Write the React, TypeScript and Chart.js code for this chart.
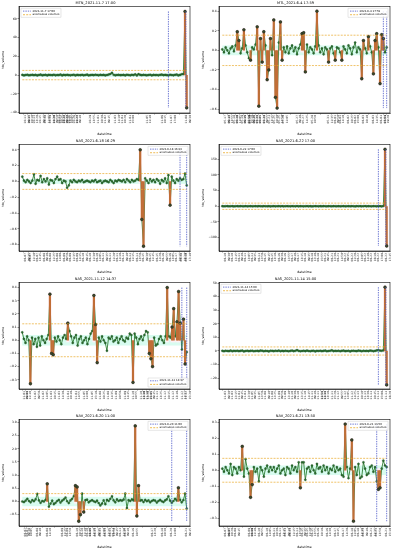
import React, { useEffect, useRef } from "react";
import { Chart, registerables } from "chart.js";
Chart.register(...registerables);

const FONT = '"DejaVu Sans", sans-serif';
Chart.defaults.font.family = FONT;

const yLabel = "ttv_volume";
const xLabel = "datetime";
const anomalyLabel = "anomalous volumes";

const titles = [
  "MTN_2021-11-7 17:00", "MTL_2021-6-4 17:59",
  "NAS_2021-6-18 16:29", "NAS_2021-6-22 17:00",
  "NAS_2021-11-12 14:37", "NAS_2021-11-14 15:00",
  "NAV_2021-6-20 11:00", "NAV_2021-6-21 13:50",
];
const eventLabels = [
  "2021-11-7 17:00", "2021-6-4 17:59", "2021-6-18 16:29", "2021-6-22 17:00",
  "2021-11-12 14:37", "2021-11-14 15:00", "2021-6-20 11:00", "2021-6-21 13:50",
];
const yMins = [-40.5, -0.64, -0.88, -143, -0.37, -28, -0.93, -0.35];
const yMaxs = [73.5, 0.45, 0.47, 198, 0.44, 50.6, 3.12, 0.32];
const ySteps = [20, 0.2, 0.2, 50, 0.1, 10, 0.5, 0.1];
const yDecimals = [0, 1, 1, 0, 1, 0, 1, 1];
const thresholds = [5, 0.155, 0.1, 10, 0.125, 3, 0.3, 0.075];
const normalBands = [2, 0.05, 0.03, 3, 0.04, 1, 0.18, 0.03];
const stemMins = [10, 0.09, 0.2, 20, 0.095, 10, 0.35, 0.085];
const eventPositions = [[88, 98.5], [97, 99], [95, 99], [94, 98.5], [98, 101], [94, 98.5], [90, 99], [93, 99]];

const p1Values = [0.2,-0.3,0.1,0.4,-0.2,0.0,0.3,-0.1,0.2,-0.4,
 0.1,0.5,-0.2,0.0,0.3,-0.3,0.2,0.1,-0.1,0.4,
 -0.2,0.1,0.0,0.6,-0.3,0.2,-0.1,0.3,0.0,-0.2,
 0.1,0.4,-0.4,0.2,0.0,-0.1,0.3,-0.2,0.1,0.5,
 -0.3,0.0,0.2,-0.1,0.4,0.1,-0.2,0.3,0.0,0.2,
 -0.3,0.1,0.6,1.2,2.5,0.4,-0.2,0.1,0.3,-0.1,
 0.0,0.2,-0.3,0.4,0.1,-0.2,0.3,0.0,0.8,-0.4,
 1.0,0.2,-0.1,0.3,0.0,-0.2,0.1,0.4,-0.3,0.2,
 0.0,0.1,-0.2,0.3,0.5,-0.1,0.2,0.0,-0.3,0.4,
 0.1,-0.2,0.3,0.6,-0.4,0.2,0.9,1.1,68,-35];
const p2Values = [0.01,-0.02,0.03,0.00,-0.03,0.02,0.04,-0.01,0.05,0.19,
 0.10,-0.03,0.02,0.21,0.05,-0.02,-0.08,-0.10,0.03,0.01,
 0.06,0.24,-0.57,0.12,-0.12,0.19,0.05,-0.30,-0.20,0.12,
 -0.05,0.31,-0.48,-0.59,0.08,0.29,-0.10,0.03,-0.02,0.04,
 -0.03,0.02,0.05,-0.01,0.03,-0.04,0.02,0.06,0.17,0.18,
 -0.22,0.06,-0.02,0.03,0.01,-0.03,0.04,0.40,0.05,-0.02,
 0.02,-0.04,0.03,0.01,-0.12,0.02,0.04,-0.03,-0.10,0.03,
 0.02,-0.02,-0.10,0.04,0.01,-0.03,0.05,0.02,-0.04,0.03,
 0.08,-0.02,0.03,0.01,-0.29,0.10,0.02,-0.03,0.14,0.04,
 -0.02,-0.24,0.10,0.17,0.03,-0.34,0.16,0.12,-0.02,0.03];
const p3Values = [0.06,0.01,-0.01,0.02,0.00,-0.02,0.01,0.09,-0.03,0.02,
 0.01,0.07,-0.01,0.03,0.00,0.04,-0.04,0.02,0.01,-0.02,
 0.03,0.06,0.02,0.03,-0.02,0.01,0.00,-0.08,-0.05,0.01,
 -0.01,0.02,0.00,-0.01,0.01,0.00,0.02,-0.01,0.00,0.01,
 0.00,-0.01,0.01,0.00,0.02,-0.01,0.00,0.01,-0.02,0.00,
 0.01,0.00,-0.01,0.02,0.00,-0.02,0.01,0.00,0.02,0.01,
 0.00,0.02,-0.01,0.03,0.01,-0.01,0.02,0.00,0.01,0.03,
 0.02,0.40,-0.48,-0.82,0.04,0.01,-0.02,0.03,0.00,0.02,
 -0.01,0.03,0.01,-0.03,0.02,0.00,0.04,-0.02,0.08,-0.30,
 0.06,0.01,-0.02,0.03,0.01,0.04,0.02,0.03,0.10,-0.05];
const p4Values = [0.2,-0.3,0.1,0.4,-0.2,0.0,0.3,-0.4,0.1,0.2,
 -0.1,0.3,0.0,-0.2,0.5,-0.3,0.1,0.2,-0.1,0.0,
 0.3,-0.2,0.4,0.1,-0.3,0.2,0.0,-0.1,0.3,-0.4,
 0.1,0.2,-0.2,0.0,0.4,-0.1,0.3,-0.3,0.1,0.2,
 0.0,-0.2,0.3,0.1,-0.1,0.5,-0.3,0.2,0.0,-0.2,
 0.1,0.3,-0.1,0.2,-0.4,0.0,0.3,0.1,-0.2,0.2,
 -0.1,0.4,0.0,-0.3,0.2,0.1,-0.2,0.3,0.0,-0.1,
 0.2,-0.3,0.1,0.4,-0.2,0.0,0.3,-0.1,0.2,0.1,
 -0.4,0.2,0.0,0.3,-0.2,0.1,0.5,-0.1,0.2,0.0,
 -0.3,0.4,0.1,-0.2,0.6,0.3,-0.5,0.8,182,-127];
const p5Values = [0.06,0.01,-0.02,0.03,0.00,-0.33,0.02,-0.03,0.01,-0.05,
 0.02,-0.04,0.03,0.00,-0.02,0.01,0.04,0.35,-0.10,-0.11,
 0.02,-0.01,0.03,0.00,-0.03,0.02,0.04,0.01,0.13,0.07,
 0.03,-0.02,0.02,0.04,-0.04,0.01,0.03,-0.02,0.00,0.02,
 -0.03,0.01,0.05,0.07,0.34,0.12,-0.17,0.02,-0.01,0.03,
 0.00,-0.02,-0.08,0.02,0.01,0.03,-0.01,0.00,0.02,-0.02,
 0.01,0.03,0.00,-0.01,0.02,0.01,0.05,0.04,-0.32,0.05,
 0.02,-0.03,0.01,0.03,0.00,0.04,0.07,0.06,-0.10,-0.14,
 -0.20,0.02,-0.04,-0.03,0.01,0.03,0.00,-0.02,0.03,0.40,
 0.03,0.02,0.10,0.24,0.03,0.14,0.37,0.13,-0.07,0.16,-0.18,-0.09];
const p6Values = [0.1,-0.2,0.2,0.0,-0.1,0.3,-0.2,0.1,0.0,0.2,
 -0.1,0.1,0.3,-0.3,0.0,0.2,-0.1,0.1,0.2,-0.2,
 0.0,0.1,-0.1,0.3,0.2,-0.2,0.1,0.0,-0.3,0.2,
 0.1,-0.1,0.2,0.0,0.3,-0.2,0.1,-0.1,0.2,0.0,
 -0.2,0.1,0.3,-0.1,0.2,0.6,0.1,-0.2,0.0,0.2,
 -0.1,0.3,0.0,-0.2,0.1,0.2,-0.3,0.1,0.0,0.2,
 -0.1,0.1,0.3,-0.2,0.0,0.2,0.5,-0.1,0.1,0.0,
 0.2,-0.2,0.1,0.3,-0.1,0.0,0.2,-0.3,0.1,0.2,
 0.0,-0.1,0.3,0.1,-0.2,0.2,0.0,0.1,-0.1,0.3,
 0.2,-0.2,0.1,0.4,0.6,0.3,0.2,0.5,47,-25];
const p7Values = [0.00,-0.02,0.03,0.10,0.02,-0.03,0.05,0.01,0.08,0.29,
 0.04,-0.05,0.02,0.00,0.06,0.67,-0.20,-0.08,0.03,-0.10,
 -0.05,0.02,0.06,-0.04,0.03,0.08,0.15,0.01,-0.06,0.04,
 0.10,0.20,0.60,0.55,-0.75,-0.50,0.30,-0.40,0.05,0.07,
 -0.03,0.02,0.05,0.01,-0.02,0.03,-0.06,-0.15,-0.08,0.04,
 -0.10,0.06,0.02,0.10,0.20,0.04,-0.03,0.08,0.02,0.05,
 0.03,0.07,0.30,-0.25,0.05,0.02,0.08,0.04,2.87,-0.55,
 0.60,0.03,0.05,-0.02,0.06,0.01,0.04,-0.03,0.02,0.05,
 0.03,-0.04,0.02,0.06,0.01,-0.02,0.04,0.08,0.20,0.03,
 -0.05,0.02,0.10,0.04,0.52,0.06,-0.03,0.05,0.30,-0.27];
const p8Values = [0.01,-0.01,0.02,0.00,-0.02,0.04,-0.03,0.02,0.01,-0.02,
 0.02,0.00,0.15,-0.04,0.07,0.01,-0.02,-0.17,-0.09,0.02,
 -0.01,0.01,-0.07,0.02,0.00,-0.04,0.01,0.03,-0.01,0.02,
 0.00,0.02,-0.01,0.01,0.03,-0.02,0.00,0.01,-0.03,0.02,
 0.01,-0.02,0.03,0.00,0.02,-0.01,0.05,-0.11,0.05,0.05,
 -0.06,0.01,0.02,-0.01,0.03,0.00,-0.02,0.04,0.01,0.02,
 -0.01,0.03,0.00,0.02,-0.02,0.01,0.00,0.03,-0.01,0.02,
 0.00,0.01,-0.03,-0.04,0.29,0.02,-0.05,0.01,0.19,-0.32,
 0.02,-0.03,0.04,-0.05,-0.04,0.05,0.01,-0.03,-0.02,0.02,
 0.03,-0.01,0.02,-0.07,-0.12,-0.11,0.01,0.06,0.03,0.02];

const p1TickPos = [2,4,7,11,14,17,19,22,23,25,27,28,31,33,41,46,50,56,60,65,75,84,90,99];
const p1TickLabels = ["10-11 09:35","10-12 10:10","10-13 13:20","10-15 09:45","10-18 11:05","10-19 14:30","10-20 09:50","10-21 10:25","10-21 13:40","10-22 09:30","10-22 14:15","10-25 10:05","10-26 11:20","10-27 09:40","10-29 13:55","11-01 10:30","11-02 09:45","11-03 14:10","11-04 10:20","11-04 15:00","11-05 11:40","11-06 10:15","11-07 17:00","11-08 09:30"];
const p2TickPos = [2,4,7,9,12,14,16,17,19,21,23,25,28,31,34,37,45,49,54,64,68,71,76,80,85,91,96,98];
const p2TickLabels = ["05-17 09:40","05-17 13:55","05-18 10:20","05-18 14:05","05-19 09:35","05-19 11:50","05-19 15:10","05-20 09:45","05-20 13:30","05-21 10:05","05-21 14:40","05-24 09:55","05-24 13:15","05-25 10:30","05-25 14:50","05-26 11:05","05-27 09:40","05-27 14:25","05-28 10:50","05-31 11:35","06-01 09:50","06-01 14:10","06-02 10:25","06-02 15:00","06-03 10:40","06-03 14:35","06-04 17:59","06-04 19:20"];
const p3TickPos = [2,5,9,13,17,21,25,29,33,37,41,45,49,53,57,61,65,69,73,77,81,85,89,93,96,99];
const p3TickLabels = ["06-07 09:35","06-07 11:10","06-07 13:45","06-08 09:40","06-08 11:25","06-08 14:00","06-09 09:50","06-09 11:35","06-09 14:15","06-10 09:45","06-10 11:30","06-10 14:05","06-11 09:35","06-11 11:20","06-11 14:10","06-14 09:40","06-14 11:15","06-14 13:50","06-15 09:30","06-15 11:45","06-15 14:20","06-16 09:55","06-16 13:05","06-17 10:15","06-18 16:29","06-18 17:40"];
const p4TickPos = [2,6,10,14,18,22,26,30,34,38,42,46,50,54,58,62,66,70,74,78,82,86,90,94,99];
const p4TickLabels = ["06-10 09:30","06-10 12:45","06-11 09:40","06-11 13:05","06-14 09:35","06-14 12:50","06-15 09:45","06-15 13:10","06-16 09:30","06-16 12:55","06-17 09:40","06-17 13:15","06-18 09:35","06-18 12:40","06-18 15:55","06-21 09:45","06-21 12:30","06-21 14:50","06-22 09:35","06-22 11:20","06-22 13:05","06-22 14:40","06-22 16:10","06-22 17:00","06-22 17:45"];
const p5TickPos = [1,3,8,13,18,23,28,33,38,43,48,53,58,63,68,73,75,77,79,83,88,93,98,101];
const p5TickLabels = ["11-01 09:30","11-01 11:40","11-02 09:50","11-02 14:05","11-03 10:15","11-03 14:30","11-04 10:40","11-04 14:55","11-05 11:00","11-05 15:10","11-08 10:25","11-08 14:35","11-09 10:50","11-09 14:45","11-10 10:55","11-10 13:30","11-10 14:20","11-10 15:05","11-11 09:45","11-11 13:25","11-12 10:15","11-12 13:40","11-12 14:37","11-12 15:20"];
const p6TickPos = [2,6,10,14,18,22,26,30,34,38,42,46,50,54,58,60,62,66,70,74,78,82,86,90,94,99];
const p6TickLabels = ["11-03 09:30","11-03 12:15","11-04 09:45","11-04 12:30","11-05 09:35","11-05 12:50","11-08 09:40","11-08 12:25","11-09 09:50","11-09 12:40","11-10 09:30","11-10 12:15","11-10 14:45","11-11 09:40","11-11 11:50","11-11 12:30","11-11 13:10","11-11 15:20","11-12 09:55","11-12 12:05","11-12 14:25","11-13 10:10","11-13 13:30","11-14 10:45","11-14 15:00","11-14 16:20"];
const p7TickPos = [2,3,9,15,24,27,33,36,39,41,44,47,50,53,55,59,62,67,78,84,90,99];
const p7TickLabels = ["06-07 09:30","06-07 10:05","06-08 09:40","06-08 14:10","06-09 11:25","06-09 13:50","06-10 10:15","06-10 11:40","06-10 13:05","06-10 14:10","06-11 09:35","06-11 11:00","06-11 12:25","06-11 13:50","06-14 09:45","06-14 11:30","06-15 09:40","06-16 10:55","06-17 13:20","06-18 10:30","06-20 11:00","06-21 09:45"];
const p8TickPos = [2,4,8,16,18,22,27,31,35,38,41,45,48,51,54,58,63,68,73,78,82,85,90,93,99];
const p8TickLabels = ["06-07 09:35","06-07 10:20","06-08 09:45","06-09 10:10","06-09 11:40","06-10 09:55","06-10 14:05","06-11 10:30","06-11 13:45","06-14 09:40","06-14 11:15","06-14 13:50","06-15 09:35","06-15 11:20","06-15 13:55","06-16 10:10","06-16 14:30","06-17 10:45","06-17 14:20","06-18 11:05","06-18 14:40","06-21 09:40","06-21 11:25","06-21 13:50","06-21 15:10"];

const seriesValues = [p1Values, p2Values, p3Values, p4Values, p5Values, p6Values, p7Values, p8Values];
const tickPositions = [p1TickPos, p2TickPos, p3TickPos, p4TickPos, p5TickPos, p6TickPos, p7TickPos, p8TickPos];
const tickLabels = [p1TickLabels, p2TickLabels, p3TickLabels, p4TickLabels, p5TickLabels, p6TickLabels, p7TickLabels, p8TickLabels];

// layout / style (not data)
const legendCorners = ["tl", "tr", "tr", "tl", "br", "tl", "tr", "tr"];
const panelLefts = [0, 200];
const panelTops = [0, 138, 276, 413];
const PW = 199, PH = 137;

const C = {
  line: "#2f7f34", point: "#2b6f2f", pointEdge: "#173f1a",
  stem: "#c06d36", tip: "#3a4a2a", tipEdge: "#1b1b1b",
  band: "#d8fcf0", span: "#fff0f5", thr: "#eaa92a", event: "#4a57c8",
};

function fmt(v: number, d: number) {
  if (Math.abs(v) < 1e-9) v = 0;
  const s = v.toFixed(d);
  return s.startsWith("-") ? "\u2212" + s.slice(1) : s;
}

function Panel({ idx }: { idx: number }) {
  const ref = useRef<HTMLCanvasElement>(null);
  useEffect(() => {
    const values = seriesValues[idx];
    const N = values.length;
    const pts = values.map((v, k) => ({ x: k, y: v }));
    const stems = pts.filter((p) => Math.abs(p.y) >= stemMins[idx]);
    const bars = stems.map((p) => ({ x: p.x, y: [0, p.y] }));
    const dMin = Math.min(...values), dMax = Math.max(...values);
    const tp = tickPositions[idx], tl = tickLabels[idx];

    const overlay = {
      id: "overlay",
      beforeDatasetsDraw(chart: any) {
        const { ctx, chartArea: a, scales } = chart;
        const x = scales.x, y = scales.y;
        ctx.save();
        ctx.beginPath();
        ctx.rect(a.left, a.top, a.width, a.height);
        ctx.clip();
        const xa = x.getPixelForValue(0), xb = x.getPixelForValue(N - 1);
        const b1 = y.getPixelForValue(normalBands[idx]), b2 = y.getPixelForValue(-normalBands[idx]);
        ctx.fillStyle = C.band;
        ctx.fillRect(xa, b1, xb - xa, b2 - b1);
        ctx.fillStyle = C.span;
        for (const p of stems) {
          const x1 = x.getPixelForValue(p.x - 1.0), x2 = x.getPixelForValue(p.x + 1.0);
          const y1 = y.getPixelForValue(Math.max(0, p.y)) - 2;
          const y2 = y.getPixelForValue(Math.min(0, p.y)) + 2;
          ctx.fillRect(x1, y1, x2 - x1, y2 - y1);
        }
        ctx.restore();
      },
      afterDatasetsDraw(chart: any) {
        const { ctx, chartArea: a, scales } = chart;
        const x = scales.x, y = scales.y;
        ctx.save();
        ctx.beginPath();
        ctx.rect(a.left, a.top, a.width, a.height);
        ctx.clip();
        const xa = x.getPixelForValue(0), xb = x.getPixelForValue(N - 1);
        ctx.strokeStyle = C.thr;
        ctx.lineWidth = 0.7;
        ctx.setLineDash([2, 1.2]);
        for (const t of [thresholds[idx], -thresholds[idx]]) {
          const yy = y.getPixelForValue(t);
          ctx.beginPath(); ctx.moveTo(xa, yy); ctx.lineTo(xb, yy); ctx.stroke();
        }
        ctx.strokeStyle = C.event;
        ctx.lineWidth = 0.8;
        ctx.setLineDash([1.4, 1]);
        for (const e of eventPositions[idx]) {
          const xx = x.getPixelForValue(e);
          ctx.beginPath();
          ctx.moveTo(xx, y.getPixelForValue(dMax));
          ctx.lineTo(xx, y.getPixelForValue(dMin));
          ctx.stroke();
        }
        ctx.restore();
      },
      afterDraw(chart: any) {
        const { ctx, chartArea: a } = chart;
        ctx.save();
        ctx.font = `2.7px ${FONT}`;
        const t1 = eventLabels[idx], t2 = anomalyLabel;
        const tw = Math.max(ctx.measureText(t1).width, ctx.measureText(t2).width);
        const w = tw + 13, h = 9;
        const corner = legendCorners[idx];
        const lx = corner.includes("r") ? a.right - w - 2 : a.left + 2;
        const ly = corner.startsWith("b") ? a.bottom - h - 2 : a.top + 2;
        ctx.fillStyle = "rgba(255,255,255,0.85)";
        ctx.strokeStyle = "#cccccc";
        ctx.lineWidth = 0.5;
        ctx.beginPath();
        ctx.rect(lx, ly, w, h);
        ctx.fill();
        ctx.stroke();
        ctx.lineWidth = 0.8;
        ctx.setLineDash([1.4, 1]);
        ctx.strokeStyle = C.event;
        ctx.beginPath(); ctx.moveTo(lx + 2, ly + 2.8); ctx.lineTo(lx + 10, ly + 2.8); ctx.stroke();
        ctx.strokeStyle = C.thr;
        ctx.setLineDash([2, 1.2]);
        ctx.beginPath(); ctx.moveTo(lx + 2, ly + 6.4); ctx.lineTo(lx + 10, ly + 6.4); ctx.stroke();
        ctx.setLineDash([]);
        ctx.fillStyle = "#000";
        ctx.textBaseline = "middle";
        ctx.textAlign = "left";
        ctx.fillText(t1, lx + 11.5, ly + 2.8);
        ctx.fillText(t2, lx + 11.5, ly + 6.4);
        ctx.strokeStyle = "#000";
        ctx.lineWidth = 0.6;
        ctx.strokeRect(a.left, a.top, a.width, a.height);
        ctx.restore();
      },
    };

    const chart = new Chart(ref.current as HTMLCanvasElement, {
      type: "line",
      data: {
        datasets: [
          {
            type: "line",
            data: pts,
            borderColor: C.line,
            borderWidth: 0.9,
            pointRadius: 1.1,
            pointBackgroundColor: C.point,
            pointBorderColor: C.pointEdge,
            pointBorderWidth: 0.3,
            tension: 0,
            order: 3,
          },
          {
            type: "bar",
            data: bars as any,
            backgroundColor: C.stem,
            barThickness: 1.5,
            order: 2,
          },
          {
            type: "line",
            data: stems,
            showLine: false,
            pointRadius: 1.4,
            pointBackgroundColor: C.tip,
            pointBorderColor: C.tipEdge,
            pointBorderWidth: 0.4,
            order: 1,
          },
        ] as any,
      },
      options: {
        animation: false,
        responsive: true,
        maintainAspectRatio: false,
        events: [],
        layout: { padding: { left: 1, right: 9, top: 0, bottom: 1 } },
        plugins: {
          legend: { display: false },
          tooltip: { enabled: false },
          title: {
            display: true,
            text: titles[idx],
            color: "#000",
            font: { size: 3.6, weight: "normal", family: FONT },
            padding: { top: 1, bottom: 1 },
          },
        },
        scales: {
          x: {
            type: "linear",
            min: -2,
            max: N + 1,
            offset: false,
            afterBuildTicks: (axis: any) => {
              axis.ticks = tp.map((v) => ({ value: v }));
            },
            afterFit: (s: any) => { s.height = 23; },
            ticks: {
              autoSkip: false,
              minRotation: 90,
              maxRotation: 90,
              padding: 0.5,
              color: "#222",
              font: { size: 2.9, family: FONT },
              callback: (_v: any, i: number) => (tl[i] ? tl[i].split(" ") : ""),
            },
            grid: { display: true, drawOnChartArea: false, drawTicks: true, tickLength: 1.5, color: "#000", lineWidth: 0.4 },
            border: { display: true, color: "#000", width: 0.6 },
            title: { display: true, text: xLabel, color: "#000", font: { size: 3.2, family: FONT }, padding: { top: 0, bottom: 0 } },
          },
          y: {
            type: "linear",
            min: yMins[idx],
            max: yMaxs[idx],
            afterFit: (s: any) => { s.width = 18; },
            ticks: {
              stepSize: ySteps[idx],
              includeBounds: false,
              autoSkip: false,
              padding: 0.8,
              color: "#000",
              font: { size: 3, family: FONT },
              callback: (v: any) => fmt(Number(v), yDecimals[idx]),
            },
            grid: { display: true, drawOnChartArea: false, drawTicks: true, tickLength: 1.5, color: "#000", lineWidth: 0.4 },
            border: { display: true, color: "#000", width: 0.6 },
            title: { display: true, text: yLabel, color: "#000", font: { size: 3.2, family: FONT }, padding: { top: 0, bottom: 1 } },
          },
        },
      } as any,
      plugins: [overlay],
    });
    return () => chart.destroy();
  }, [idx]);
  const left = panelLefts[idx % 2];
  const top = panelTops[Math.floor(idx / 2)];
  return (
    <div style={{ position: "absolute", left, top, width: PW, height: PH }}>
      <canvas ref={ref} />
    </div>
  );
}

export default function App() {
  return (
    <div style={{ position: "fixed", left: 0, top: 0, width: 399, height: 550, background: "#fff", overflow: "hidden" }}>
      {titles.map((_, i) => (
        <Panel key={i} idx={i} />
      ))}
    </div>
  );
}
